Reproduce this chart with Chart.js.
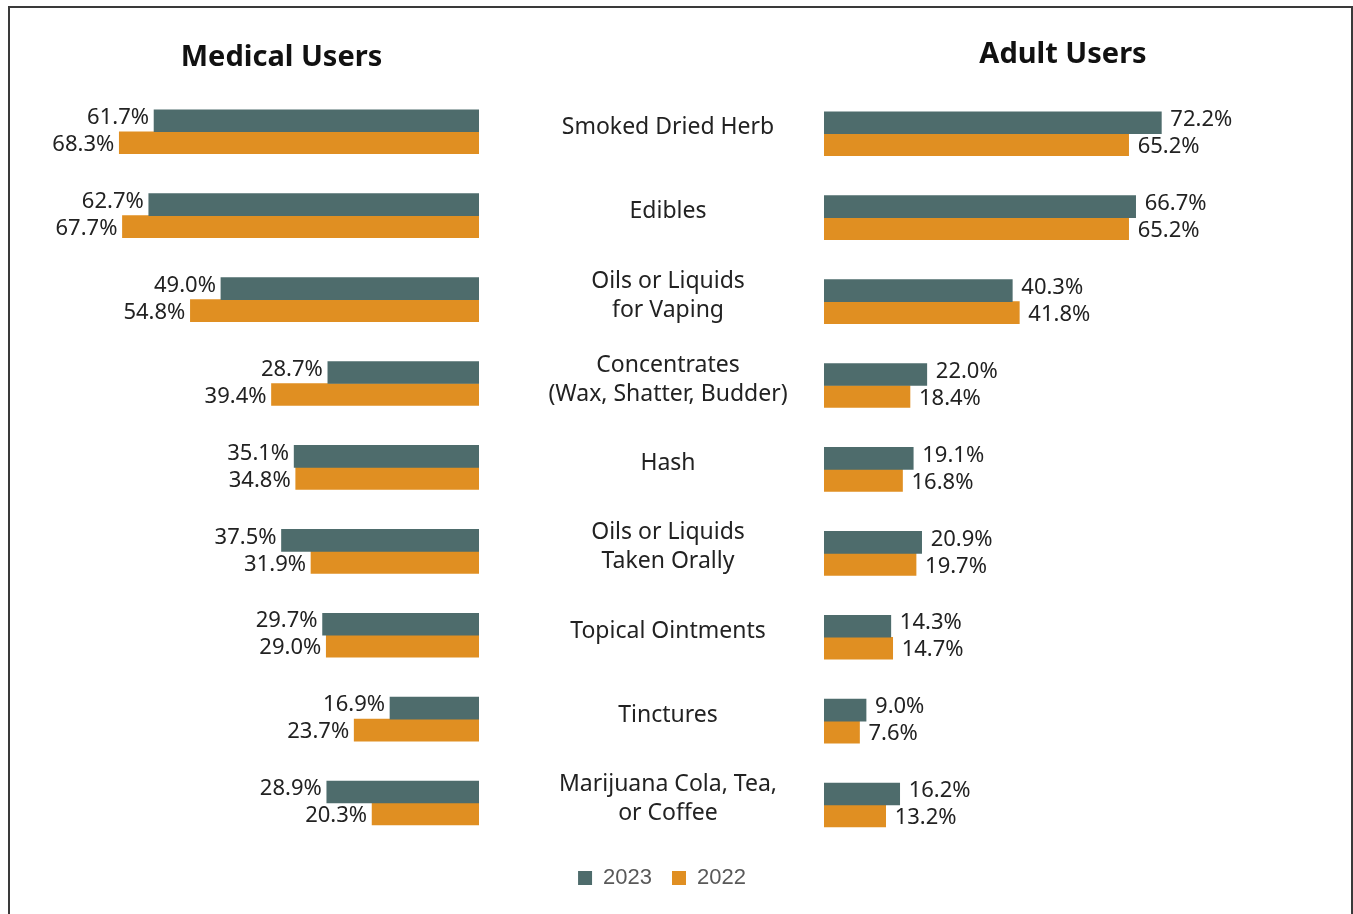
<!DOCTYPE html>
<html>
<head>
<meta charset="utf-8">
<script src="https://cdn.jsdelivr.net/npm/chart.js@4.4.1/dist/chart.umd.min.js"></script>
<style>
  html, body { margin: 0; padding: 0; background: #fff; overflow: hidden; }
  #frame { position: absolute; left: 8px; top: 6px; width: 1341px; height: 1000px; border: 2px solid #3a3a3a; }
  canvas { position: absolute; left: 0; top: 0; }
</style>
</head>
<body>
<div id="frame"></div>
<canvas id="medical" width="1353" height="914"></canvas>
<canvas id="adult" width="1353" height="914"></canvas>
<script>
const categories = [
  'Smoked Dried Herb',
  'Edibles',
  ['Oils or Liquids', 'for Vaping'],
  ['Concentrates', '(Wax, Shatter, Budder)'],
  'Hash',
  ['Oils or Liquids', 'Taken Orally'],
  'Topical Ointments',
  'Tinctures',
  ['Marijuana Cola, Tea,', 'or Coffee']
];
const seriesNames = ['2023', '2022'];
const medical2023 = [61.7, 62.7, 49.0, 28.7, 35.1, 37.5, 29.7, 16.9, 28.9];
const medical2022 = [68.3, 67.7, 54.8, 39.4, 34.8, 31.9, 29.0, 23.7, 20.3];
const adult2023 = [72.2, 66.7, 40.3, 22.0, 19.1, 20.9, 14.3, 9.0, 16.2];
const adult2022 = [65.2, 65.2, 41.8, 18.4, 16.8, 19.7, 14.7, 7.6, 13.2];

const TEAL = '#4e6c6c';
const ORANGE = '#e08f22';
const FONT = '"Noto Sans", sans-serif';

// plugin maison pour les étiquettes de valeur au bout des barres
const valueLabels = {
  id: 'valueLabels',
  afterDatasetsDraw(chart, args, opts) {
    const ctx = chart.ctx;
    ctx.save();
    ctx.font = '22px ' + FONT;
    ctx.fillStyle = '#222';
    ctx.textBaseline = 'middle';
    chart.data.datasets.forEach((ds, i) => {
      const dy = i === 0 ? -3 : 2;
      chart.getDatasetMeta(i).data.forEach((bar, j) => {
        const txt = ds.data[j].toFixed(1) + '%';
        if (opts.side === 'left') {
          ctx.textAlign = 'right';
          ctx.fillText(txt, bar.x - 5, bar.y + dy);
        } else {
          ctx.textAlign = 'left';
          ctx.fillText(txt, bar.x + 9, bar.y + dy);
        }
      });
    });
    ctx.restore();
  }
};

// largeur de la plus longue ligne pour centrer les catégories vers x=668
const m = document.createElement('canvas').getContext('2d');
m.font = '23px ' + FONT;
let widest = 0;
categories.flat().forEach(t => { widest = Math.max(widest, m.measureText(t).width); });
const labelPad = 156 - widest / 2;

function makeDatasets(a, b) {
  return [
    { label: seriesNames[0], data: a, backgroundColor: TEAL, borderWidth: 0, barThickness: 22 },
    { label: seriesNames[1], data: b, backgroundColor: ORANGE, borderWidth: 0, barThickness: 22 }
  ];
}

Chart.defaults.font.family = FONT;
Chart.defaults.animation = false;

new Chart(document.getElementById('medical'), {
  type: 'bar',
  data: { labels: categories, datasets: makeDatasets(medical2023, medical2022) },
  options: {
    indexAxis: 'y',
    responsive: false,
    devicePixelRatio: 1,
    layout: { padding: { left: 84, right: 874, top: 0, bottom: 69 } },
    plugins: {
      legend: { display: false },
      tooltip: { enabled: false },
      title: {
        display: true,
        text: 'Medical Users',
        color: '#111',
        font: { size: 29, weight: 'bold' },
        padding: { top: 40, bottom: 15 }
      },
      valueLabels: { side: 'left' }
    },
    scales: {
      x: { type: 'linear', min: 0, max: 75, reverse: true, display: false },
      y: { display: false }
    }
  },
  plugins: [valueLabels]
});

new Chart(document.getElementById('adult'), {
  type: 'bar',
  data: { labels: categories, datasets: makeDatasets(adult2023, adult2022) },
  options: {
    indexAxis: 'y',
    responsive: false,
    devicePixelRatio: 1,
    layout: { padding: { left: 22, right: 51, top: 0, bottom: 15 } },
    plugins: {
      tooltip: { enabled: false },
      title: {
        display: true,
        fullSize: false,
        text: 'Adult Users',
        color: '#111',
        font: { size: 29, weight: 'bold' },
        padding: { top: 37, bottom: 20 }
      },
      legend: {
        position: 'bottom',
        labels: {
          boxWidth: 14,
          boxHeight: 14,
          padding: 20,
          color: '#595959',
          font: { family: '"Liberation Sans", Arial, sans-serif', size: 22 }
        }
      },
      valueLabels: { side: 'right' }
    },
    scales: {
      x: { type: 'linear', min: 0, max: 102.3, display: false },
      y: {
        afterFit(scale) { scale.width = 802; },
        grid: { display: false, drawTicks: false },
        border: { display: false },
        ticks: {
          crossAlign: 'center',
          padding: labelPad,
          labelOffset: -6,
          color: '#222',
          font: { size: 23, lineHeight: 1.26 }
        }
      }
    }
  },
  plugins: [valueLabels]
});
</script>
</body>
</html>
